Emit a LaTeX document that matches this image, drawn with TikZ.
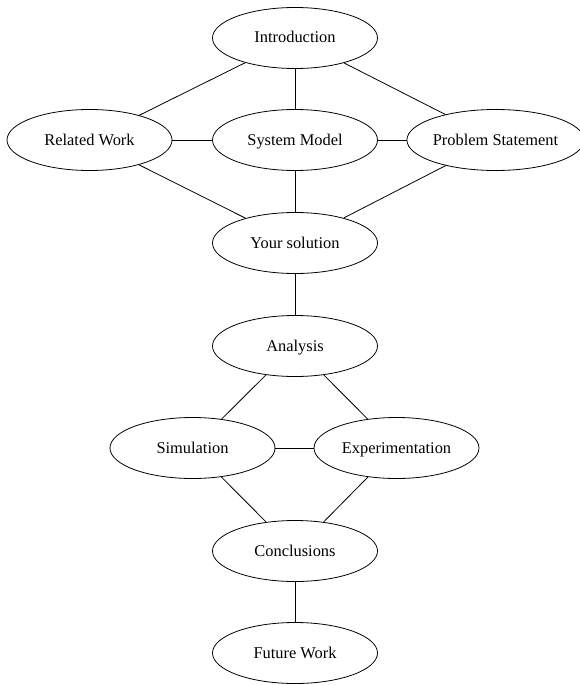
\documentclass[tikz,border=0pt]{standalone}
\usepackage{fontspec}
\setmainfont{Liberation Serif}
\usepackage{tikz}
\usepackage{xcolor}
\usetikzlibrary{shapes.geometric,positioning}
\definecolor{PaperBlack}{HTML}{000000}
\definecolor{PaperWhite}{HTML}{ffffff}
\tikzset{
    % Section node style
    sectionnode/.style={
        ellipse,
        draw=PaperBlack,
        fill=PaperWhite,
        line width=0.8pt,
        inner sep=0pt,
        minimum width=165pt,
        minimum height=61pt,
        text height=11pt,
        text depth=1pt,
        align=center,
        font=\fontsize{16.4}{19}\selectfont
    },
    % Plain link (no arrow heads)
    mylink/.style={
        -,
        line width=0.8pt,
        draw=PaperBlack
    }
}
\begin{document}
\begin{tikzpicture}[x=1pt, y=-1pt]
        \useasboundingbox (0,0) rectangle (579,685);
        % Section nodes
        \node[sectionnode] (intro) at (295,38) {Introduction};
        \node[sectionnode] (related) at (89.5,140) {Related Work};
        \node[sectionnode] (model) at (295,140) {System Model};
        \node[sectionnode] (problem) at (495.5,140) {Problem Statement};
        \node[sectionnode] (solution) at (295,243) {Your solution};
        \node[sectionnode] (analysis) at (295,346) {Analysis};
        \node[sectionnode] (simulation) at (192.5,448) {Simulation};
        \node[sectionnode] (experiment) at (396.5,448) {Experimentation};
        \node[sectionnode] (conclusions) at (295,551) {Conclusions};
        \node[sectionnode] (future) at (295,653) {Future Work};

        % Links between sections
        \draw[mylink] (intro) -- (related);
        \draw[mylink] (intro) -- (model);
        \draw[mylink] (intro) -- (problem);
        \draw[mylink] (related) -- (model);
        \draw[mylink] (model) -- (problem);
        \draw[mylink] (related) -- (solution);
        \draw[mylink] (model) -- (solution);
        \draw[mylink] (problem) -- (solution);
        \draw[mylink] (solution) -- (analysis);
        \draw[mylink] (analysis) -- (simulation);
        \draw[mylink] (analysis) -- (experiment);
        \draw[mylink] (simulation) -- (experiment);
        \draw[mylink] (simulation) -- (conclusions);
        \draw[mylink] (experiment) -- (conclusions);
        \draw[mylink] (conclusions) -- (future);
    \end{tikzpicture}
\end{document}
